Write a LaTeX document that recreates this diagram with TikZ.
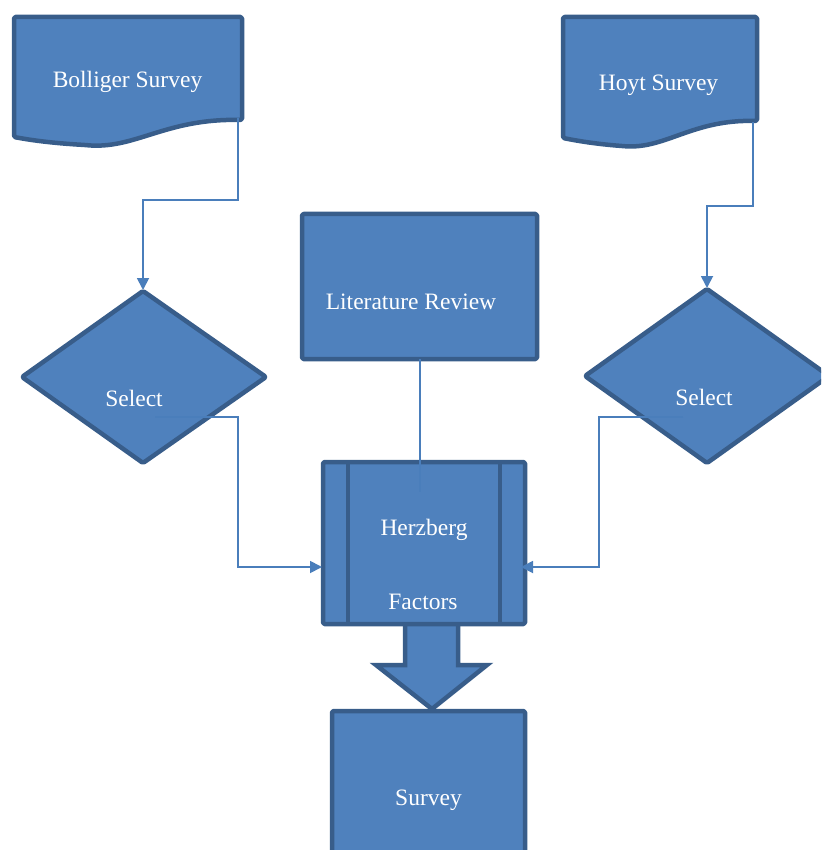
\documentclass[tikz,border=0pt]{standalone}
\usepackage{fontspec}
\setmainfont{Liberation Serif}
\usetikzlibrary{arrows.meta}
\definecolor{shapefill}{HTML}{4F81BD}
\definecolor{shapeline}{HTML}{385D8A}
\definecolor{conn}{HTML}{4A7EBB}
\begin{document}
\begin{tikzpicture}[x=1pt,y=-1pt,
  shapebox/.style={fill=shapefill,draw=shapeline,line width=4.5pt,line join=round,rounded corners=1.5pt},
  lbl/.style={text=white,font=\fontsize{23.5}{28}\selectfont,anchor=base,inner sep=0pt},
  connector/.style={draw=conn,line width=1.8pt},
  tip/.style={-{Triangle[length=12pt,width=12pt]}}]
\useasboundingbox (0,0) rectangle (821,850);
\clip (0,0) rectangle (821,850);
% document shapes
\path[shapebox] (14,17) -- (242,17) -- (242,120)
  .. controls (165,118) and (135,150) .. (85,145)
  .. controls (50,143) and (30,140) .. (14,137) -- cycle;
\path[shapebox] (563,17) -- (757,17) -- (757,121)
  .. controls (692,119) and (665,150) .. (622,146)
  .. controls (596,144) and (578,141) .. (563,138) -- cycle;
% diamonds
\path[shapebox] (143,291) -- (266,377) -- (143,463) -- (22,377) -- cycle;
\path[shapebox] (707,289) -- (829,376) -- (707,463) -- (585,376) -- cycle;
% literature review
\path[shapebox] (302,214) rectangle (537,359);
% block arrow
\path[shapebox,rounded corners=0pt,line join=miter] (405,620) -- (458,620) -- (458,665) -- (487,665) -- (432,709) -- (376,665) -- (405,665) -- cycle;
% Herzberg predefined process
\path[shapebox] (323,462) rectangle (525,624);
\draw[draw=shapeline,line width=4.5pt] (348,462) -- (348,624) (500,462) -- (500,624);
% survey
\path[shapebox] (332,711) rectangle (525,870);
% labels
\node[lbl] (bol) at (127.5,88) {Bolliger Survey};
\node[lbl] (hoyt) at (658.5,90.5) {Hoyt Survey};
\node[lbl] (selL) at (134,406) {Select};
\node[lbl] (selR) at (704,405) {Select};
\node[lbl] (lit) at (411,309) {Literature Review};
\node[lbl] (herz) at (424,535) {Herzberg};
\node[lbl] (fact) at (423,609) {Factors};
\node[lbl] (surv) at (428.5,805) {Survey};
% connector coordinates
\coordinate (bolOut) at (238,118);
\coordinate (selLtop) at (143,290);
\coordinate (hoytOut) at (753,122);
\coordinate (selRtop) at (707,288);
\coordinate (selLout) at (155,417);
\coordinate (herzL) at (322,567);
\coordinate (selRout) at (683,417);
\coordinate (herzR) at (521,567);
\coordinate (litOut) at (420,359);
\coordinate (herzIn) at (420,492);
% connectors
\draw[connector,tip] (bolOut) |- (190.5,200) -| (selLtop);
\draw[connector,tip] (hoytOut) |- (730,206) -| (selRtop);
\draw[connector,tip] (selLout) -| (238,492) |- (herzL);
\draw[connector,tip] (selRout) -| (599,492) |- (herzR);
\draw[connector] (litOut) -- (herzIn);
\end{tikzpicture}
\end{document}
